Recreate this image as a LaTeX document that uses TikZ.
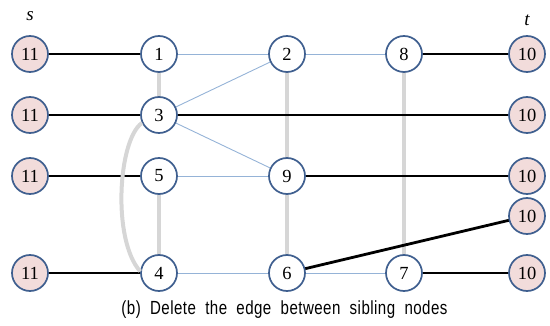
\documentclass[tikz,border=0pt]{standalone}
\usepackage{graphicx}
\usepackage{fontspec}
\setmainfont{Liberation Serif}
\newfontfamily\capfont[LetterSpace=3]{Liberation Sans}
\begin{document}
\begin{tikzpicture}[x=1pt,y=-1pt,
  vtx/.style={circle,draw=nodeblue,line width=1.7pt,fill=white,minimum size=36pt,inner sep=0pt,font=\fontsize{18.5}{18.5}\selectfont},
  term/.style={vtx,fill=termpink},
  blk/.style={line width=2.8pt,black},
  thin/.style={line width=0.9pt,edgeblue},
  gry/.style={line width=4pt,edgegray}]
\definecolor{nodeblue}{HTML}{3F5F8F}
\definecolor{termpink}{HTML}{F2DCDB}
\definecolor{edgeblue}{HTML}{95B3D7}
\definecolor{edgegray}{HTML}{D6D6D6}
\useasboundingbox (0,0) rectangle (550,326);
% coordinates
\coordinate (p11a) at (30,54);
\coordinate (p11b) at (30,115);
\coordinate (p11c) at (30,176);
\coordinate (p11d) at (30,273);
\coordinate (p1) at (159,54);
\coordinate (p3) at (159,115);
\coordinate (p5) at (159,176);
\coordinate (p4) at (159,273);
\coordinate (p2) at (287,54);
\coordinate (p9) at (287,176);
\coordinate (p6) at (287,273);
\coordinate (p8) at (404,54);
\coordinate (p7) at (404,273);
\coordinate (p10a) at (527,54);
\coordinate (p10b) at (527,115);
\coordinate (p10c) at (527,176);
\coordinate (p10d) at (527,216);
\coordinate (p10e) at (527,273);
% thin blue edges
\draw[thin] (p1) -- (p2);
\draw[thin] (p2) -- (p8);
\draw[thin] (p3) -- (p2);
\draw[thin] (p3) -- (p9);
\draw[thin] (p5) -- (p9);
\draw[thin] (p4) -- (p6);
\draw[thin] (p6) -- (p7);
% gray edges
\draw[gry] (p1) -- (p3);
\draw[gry] (p2) -- (p9);
\draw[gry] (p9) -- (p6);
\draw[gry] (p8) -- (p7);
\draw[gry] (p5) -- (p4);
% black edges
\draw[blk] (p11a) -- (p1);
\draw[blk] (p8) -- (p10a);
\draw[blk] (p11b) -- (p3);
\draw[blk] (p3) -- (p10b);
\draw[blk] (p11c) -- (p5);
\draw[blk] (p9) -- (p10c);
\draw[blk] (p11d) -- (p4);
\draw[blk] (p6) -- (p10d);
\draw[blk] (p7) -- (p10e);
% nodes
\node[term] (s1) at (p11a) {11};
\node[term] (s2) at (p11b) {11};
\node[term] (s3) at (p11c) {11};
\node[term] (s4) at (p11d) {11};
\node[vtx] (n1) at (p1) {1};
\node[vtx] (n3) at (p3) {3};
\node[vtx] (n5) at (p5) {5};
\node[vtx] (n4) at (p4) {4};
\node[vtx] (n2) at (p2) {2};
\node[vtx] (n9) at (p9) {9};
\node[vtx] (n6) at (p6) {6};
\node[vtx] (n8) at (p8) {8};
\node[vtx] (n7) at (p7) {7};
\node[term] (t1) at (p10a) {10};
\node[term] (t2) at (p10b) {10};
\node[term] (t3) at (p10c) {10};
\node[term] (t4) at (p10d) {10};
\node[term] (t5) at (p10e) {10};
% curved gray edge 3-4
\draw[gry] (n3.205) .. controls (118,140) and (112,240) .. (n4.175);
% labels
\node[font=\fontsize{19}{19}\selectfont\itshape] (ls) at (30,16) {s};
\node[font=\fontsize{19}{19}\selectfont\itshape] (lt) at (527,20) {t};
\node[inner sep=0pt] (cap) at (284.5,310) {\resizebox{326pt}{\height}{\fontsize{19}{19}\selectfont\capfont (b)\ \ Delete\ \ the\ \ edge\ \ between\ \ sibling\ \ nodes}};
\end{tikzpicture}
\end{document}
